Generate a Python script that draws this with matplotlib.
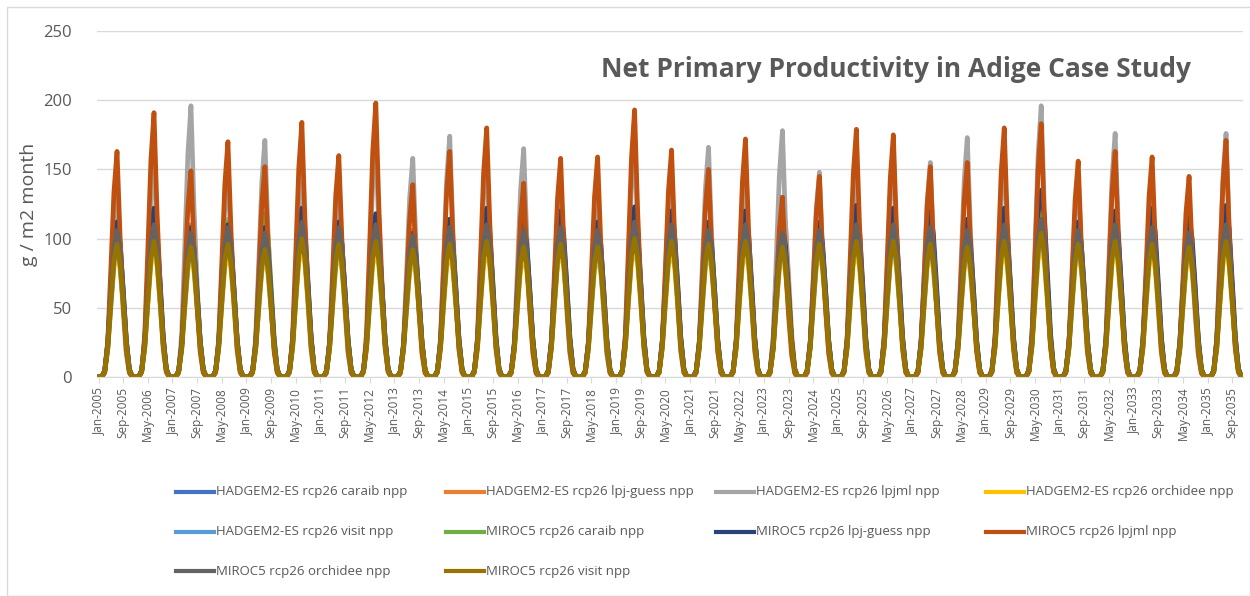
import matplotlib.pyplot as plt
import numpy as np
from matplotlib.lines import Line2D
from matplotlib.patches import Rectangle

plt.rcParams['font.family'] = ['Open Sans', 'DejaVu Sans']

# years covered, one value per month
years = list(range(2005, 2036))

# shape of one growing season (percent of the yearly peak, Jan..Dec)
season_sharp = [0, 0, 2, 16, 48, 82, 100, 62, 34, 12, 2, 0]
season_broad = [0, 0, 4, 22, 56, 88, 100, 86, 56, 24, 5, 0]

# yearly peak values (g / m2 month)
had_caraib = [104, 108, 102, 106, 100, 110, 104, 108, 100, 106, 108, 104, 106, 102, 110, 108, 104, 108, 102, 104, 108, 106, 104, 102, 108, 112, 104, 108, 106, 102, 108]
had_lpjguess = [112, 118, 110, 114, 108, 118, 112, 116, 106, 114, 118, 110, 116, 112, 120, 116, 112, 118, 128, 112, 118, 116, 112, 114, 118, 122, 112, 116, 114, 110, 118]
had_lpjml = [140, 160, 196, 150, 171, 155, 140, 170, 158, 174, 160, 165, 140, 135, 170, 150, 166, 150, 178, 148, 150, 160, 155, 173, 160, 196, 145, 176, 140, 130, 176]
had_orchidee = [90, 92, 88, 90, 86, 94, 90, 92, 86, 90, 92, 88, 92, 88, 94, 92, 90, 92, 88, 90, 92, 92, 90, 88, 92, 96, 90, 92, 90, 88, 92]
had_visit = [94, 98, 92, 96, 90, 100, 94, 98, 90, 96, 98, 94, 96, 92, 100, 98, 94, 98, 92, 94, 98, 96, 94, 92, 98, 102, 94, 98, 96, 92, 98]
miroc_caraib = [110, 114, 108, 112, 118, 114, 110, 116, 104, 110, 114, 108, 112, 108, 116, 114, 110, 114, 106, 108, 114, 112, 110, 108, 114, 118, 110, 114, 112, 108, 114]
miroc_lpjguess = [112, 122, 108, 110, 108, 122, 112, 118, 104, 114, 122, 112, 120, 112, 123, 120, 112, 120, 110, 112, 124, 122, 120, 114, 122, 135, 112, 120, 122, 116, 124]
miroc_lpjml = [163, 191, 149, 170, 152, 184, 160, 198, 139, 163, 180, 140, 158, 159, 193, 164, 150, 172, 130, 145, 179, 175, 152, 155, 180, 183, 156, 163, 159, 145, 171]
miroc_orchidee = [106, 110, 104, 108, 104, 112, 108, 110, 102, 108, 110, 106, 108, 106, 112, 110, 106, 110, 104, 106, 110, 110, 108, 106, 110, 114, 106, 110, 108, 104, 110]
miroc_visit = [96, 98, 94, 96, 92, 100, 96, 98, 92, 96, 98, 94, 96, 94, 100, 98, 96, 98, 94, 96, 98, 98, 96, 94, 98, 104, 96, 98, 96, 94, 98]

labels = ['HADGEM2-ES rcp26 caraib npp', 'HADGEM2-ES rcp26 lpj-guess npp',
          'HADGEM2-ES rcp26 lpjml npp', 'HADGEM2-ES rcp26 orchidee npp',
          'HADGEM2-ES rcp26 visit npp', 'MIROC5 rcp26 caraib npp',
          'MIROC5 rcp26 lpj-guess npp', 'MIROC5 rcp26 lpjml npp',
          'MIROC5 rcp26 orchidee npp', 'MIROC5 rcp26 visit npp']
peaks = [had_caraib, had_lpjguess, had_lpjml, had_orchidee, had_visit,
         miroc_caraib, miroc_lpjguess, miroc_lpjml, miroc_orchidee, miroc_visit]
shapes = [season_broad, season_broad, season_sharp, season_broad, season_broad,
          season_broad, season_broad, season_sharp, season_broad, season_broad]
colors = ['#4472C4', '#ED7D31', '#A5A5A5', '#FFC000', '#5B9BD5',
          '#70AD47', '#264478', '#C0500F', '#636363', '#997300']

months = ['Jan', 'Feb', 'Mar', 'Apr', 'May', 'Jun', 'Jul', 'Aug', 'Sep', 'Oct', 'Nov', 'Dec']
t = np.arange(len(years) * 12)

fig = plt.figure(figsize=(12.5, 5.96), dpi=100)
ax = fig.add_axes([0.0776, 0.3674, 0.9168, 0.5806])

for pk, sh, col, lab in zip(peaks, shapes, colors, labels):
    vals = np.concatenate([np.array(sh) / 100.0 * p for p in pk])
    ax.plot(t, vals, color=col, lw=3.4, label=lab, solid_joinstyle='round')

ax.set_ylim(0, 250)
ax.set_xlim(-0.5, len(t) - 0.5)
ax.set_yticks([0, 50, 100, 150, 200, 250])
ax.grid(axis='y', color='#D9D9D9', lw=1)
ax.set_axisbelow(True)
for s in ['top', 'right', 'left']:
    ax.spines[s].set_visible(False)
ax.spines['bottom'].set_color('#D9D9D9')
ax.tick_params(axis='y', length=0, pad=18, labelsize=12, labelcolor='#595959')

xt = t[::8]
ax.set_xticks(xt)
ax.set_xticklabels([f'{months[i % 12]}-{years[i // 12]}' for i in xt], rotation=90)
ax.tick_params(axis='x', length=4, color='#D9D9D9', labelsize=8.5, labelcolor='#595959', pad=3)

ax.set_ylabel('g / m2 month', fontsize=14, color='#595959', labelpad=4)
ax.text(0.717, 0.883, 'Net Primary Productivity in Adige Case Study', transform=fig.transFigure,
        ha='center', va='center', fontsize=19, fontweight='bold', color='#595959')

# legend laid out row by row like the spreadsheet
W, H = 1250, 596
for i, (col, lab) in enumerate(zip(colors, labels)):
    r, c = divmod(i, 4)
    x0 = 176 + c * 270
    y0 = 492 + r * 39.5
    fig.add_artist(Line2D([x0 / W, (x0 + 38) / W], [1 - y0 / H, 1 - y0 / H], color=col, lw=3))
    fig.text((x0 + 40) / W, 1 - y0 / H, lab, ha='left', va='center', fontsize=9.5, color='#595959')

fig.add_artist(Rectangle((7 / W, 0), 1 - 7 / W, 1 - 7 / H, transform=fig.transFigure,
                         fill=False, edgecolor='#D9D9D9', lw=1))

fig.savefig('out.png', dpi=100)
